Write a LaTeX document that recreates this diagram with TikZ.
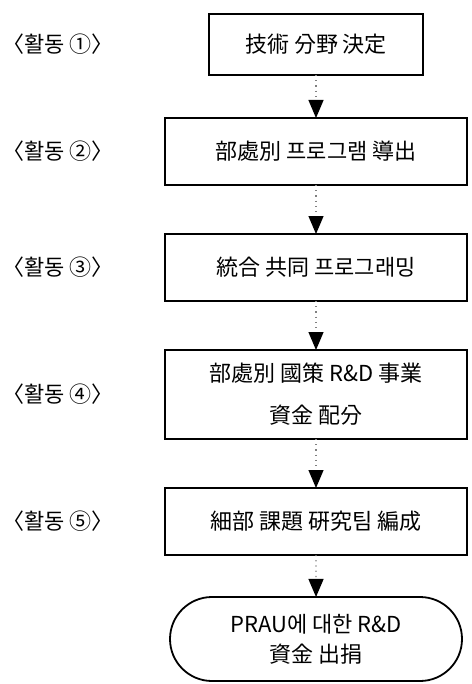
\documentclass[tikz,border=0pt]{standalone}
\usepackage{fontspec}
\setmainfont{Noto Sans CJK KR}
\usetikzlibrary{positioning, arrows.meta, shapes.misc}
\tikzset{
    stepbox/.style={draw, rectangle, line width=0.9pt, inner sep=0pt, outer sep=0pt,
        minimum width=151pt, minimum height=33.5pt, align=center,
        font=\fontsize{11}{13}\selectfont},
    endbox/.style={stepbox, rounded rectangle, minimum width=146pt, minimum height=42pt},
    tag/.style={anchor=west, inner sep=0pt, font=\fontsize{11}{13}\selectfont},
    flow/.style={draw=gray, dotted, line width=0.6pt,
        -{Triangle[length=9pt, width=7.5pt, black]}},
}

\begin{document}
\begin{tikzpicture}
    \tikzset{node distance=24.5pt}
    \useasboundingbox (0,0) rectangle (235.5pt,-342pt);

    \node[stepbox, minimum width=107pt, minimum height=30.5pt] (b1) at (158pt,-22.25pt) {技術 分野 決定};
    \node[stepbox, below=21.5pt of b1] (b2) {部處別 프로그램 導出};
    \node[stepbox, below=of b2] (b3) {統合 共同 프로그래밍};
    \node[stepbox, minimum height=44.5pt, below=of b3] (b4) {部處別 國策 R\&D 事業\\[8pt]資金 配分};
    \node[stepbox, below=of b4] (b5) {細部 課題 硏究팀 編成};
    \node[endbox, below=21pt of b5] (b6) {PRAU에 대한 R\&D\\[2pt]資金 出捐};

    \draw[flow] (b1) -- (b2);
    \draw[flow] (b2) -- (b3);
    \draw[flow] (b3) -- (b4);
    \draw[flow] (b4) -- (b5);
    \draw[flow] (b5) -- (b6);

    \node[tag] (t1) at (1pt,0 |- b1) {〈활동 ①〉};
    \node[tag] (t2) at (1pt,0 |- b2) {〈활동 ②〉};
    \node[tag] (t3) at (1pt,0 |- b3) {〈활동 ③〉};
    \node[tag] (t4) at (1pt,0 |- b4) {〈활동 ④〉};
    \node[tag] (t5) at (1pt,0 |- b5) {〈활동 ⑤〉};
\end{tikzpicture}
\end{document}
